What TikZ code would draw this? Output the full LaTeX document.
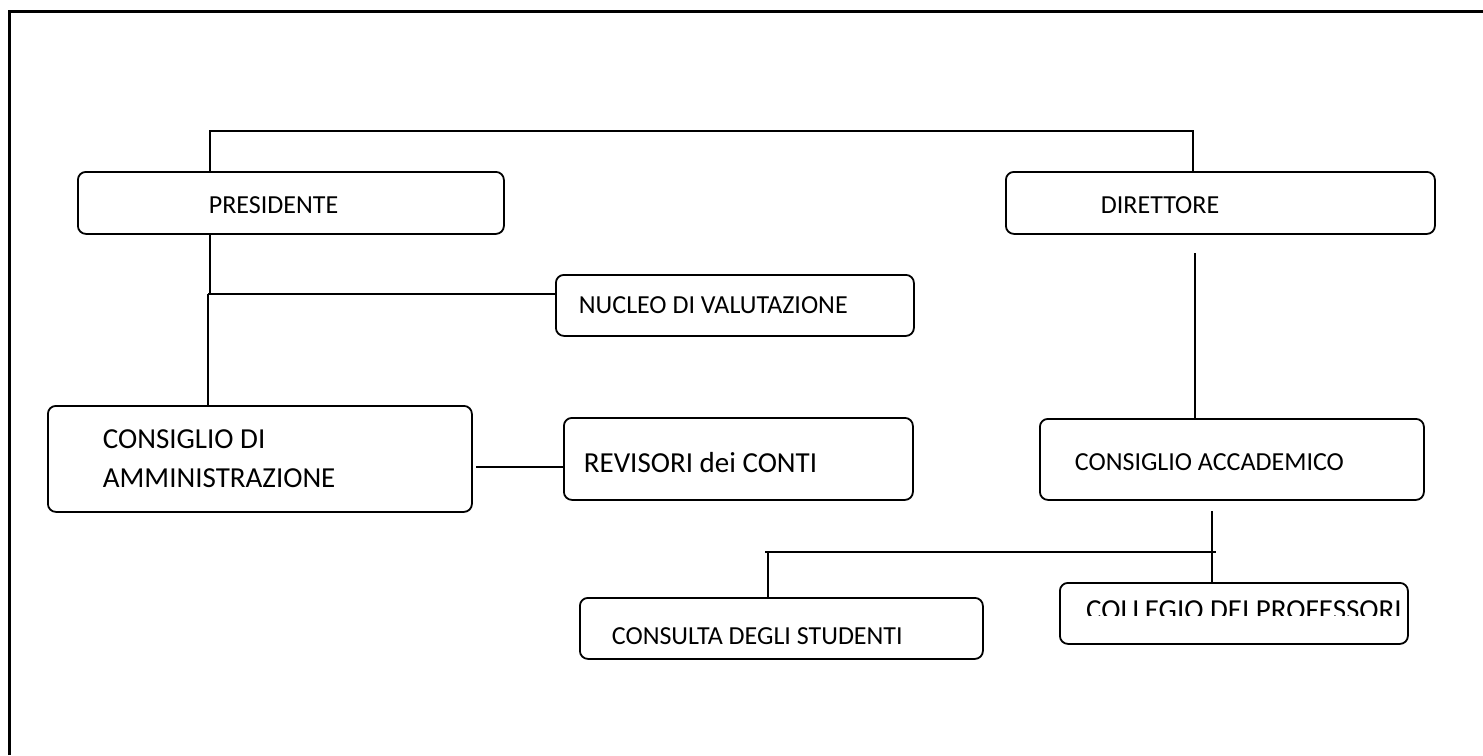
\documentclass[tikz,border=0pt]{standalone}
\usepackage{fontspec}
\setmainfont{Carlito}
\tikzset{>=latex}
\usetikzlibrary{positioning}
\tikzset{box/.style={draw, rounded corners=8pt, line width=1.8pt, anchor=north west, align=left, inner ysep=0pt, font=\fontsize{26}{31}\selectfont, execute at begin node={\spaceskip=0pt\relax}},
  link/.style={line width=1.8pt}}

\begin{document}
\begin{tikzpicture}[x=1pt, y=-1pt]
      \useasboundingbox (0,0) rectangle (1483,755);
      \draw[line width=3pt] (9,755) -- (9,11) -- (1483,11);
      \node[box, minimum height=62pt, inner xsep=131pt, text width=164pt, text height=22pt] (n0) at (77,171) {PRESIDENTE};
      \node[box, minimum height=62pt, inner xsep=95pt, text width=239pt, text height=22pt] (n1) at (1005,171) {DIRETTORE};
      \node[box, minimum height=61pt, inner xsep=23pt, text width=312pt] (n2) at (555,274) {NUCLEO DI VALUTAZIONE};
      \node[box, minimum height=106pt, inner xsep=55pt, text width=314pt, font=\fontsize{29}{39}\selectfont] (n3) at (47,405) {CONSIGLIO DI\\AMMINISTRAZIONE};
      \node[box, minimum height=82pt, inner xsep=20pt, text width=309pt, text height=28pt, font=\fontsize{29}{35}\selectfont] (n4) at (563,417) {REVISORI dei CONTI};
      \node[box, minimum height=81pt, inner xsep=35pt, text width=314pt, text height=22pt] (n5) at (1039,418) {CONSIGLIO ACCADEMICO};
      \node[box, minimum height=61pt, inner xsep=32pt, text width=339pt, text height=32pt] (n6) at (579,597) {CONSULTA DEGLI STUDENTI};
      \node[box, minimum width=348pt, minimum height=61pt] (n7) at (1059,582) {};
      \coordinate (aux11) at (1407,615);
      \begin{scope}
        \clip (n7.north west) rectangle (aux11);
        \node[font=\fontsize{29}{35}\selectfont] (n8) at ([shift={(10,-3)}]n7.center) {COLLEGIO DEI PROFESSORI};
      \end{scope}
      \coordinate (aux1) at (210,131);
      \coordinate (aux2) at (1193,131);
      \draw[link] (n0.north -| aux1) |- (aux2) -- (n1.north -| aux2);
      \coordinate (aux3) at (210,294);
      \coordinate (aux4) at (208,294);
      \draw[link] (n0.south -| aux3) -- (aux3);
      \draw[link] (aux4) -- (n2.west |- aux4);
      \draw[link] (aux4) -- (n3.north -| aux4);
      \coordinate (aux5) at (476,467);
      \draw[link] (aux5) -- (n4.west |- aux5);
      \coordinate (aux6) at (1195,253);
      \draw[link] (aux6) -- (n5.north -| aux6);
      \coordinate (aux7) at (1212,511);
      \draw[link] (aux7) -- (n7.north -| aux7);
      \coordinate (aux8) at (765,552);
      \coordinate (aux9) at (1216,552);
      \draw[link] (aux8) -- (aux9);
      \coordinate (aux10) at (768,552);
      \draw[link] (aux10) -- (n6.north -| aux10);
    \end{tikzpicture}
\end{document}
